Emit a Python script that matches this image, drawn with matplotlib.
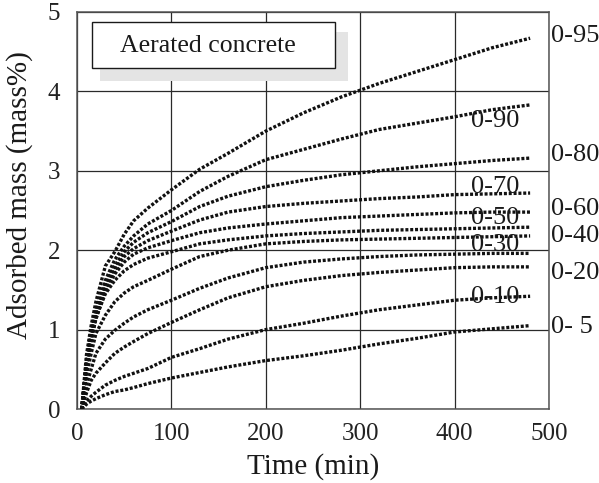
import matplotlib
matplotlib.use("Agg")
import matplotlib.pyplot as plt
from matplotlib.patches import Rectangle

plt.rcParams['font.family'] = ['Liberation Serif', 'DejaVu Serif']

# time points (min) at which the curves were read
t = [5, 10, 15, 20, 30, 40, 50, 60, 75, 100, 130, 160, 200, 240, 280, 320, 360, 400, 440, 480]

# adsorbed mass (mass%) for each relative humidity step
rh_0_95 = [0.0, 0.68, 1.05, 1.35, 1.80, 1.98, 2.20, 2.37, 2.53, 2.76, 3.02, 3.22, 3.50, 3.73, 3.93, 4.10, 4.25, 4.40, 4.55, 4.67]
rh_0_90 = [0.0, 0.60, 0.98, 1.25, 1.62, 1.88, 2.05, 2.18, 2.33, 2.50, 2.74, 2.93, 3.14, 3.27, 3.40, 3.52, 3.60, 3.68, 3.77, 3.83]
rh_0_80 = [0.0, 0.58, 0.95, 1.20, 1.57, 1.80, 1.98, 2.10, 2.22, 2.36, 2.55, 2.68, 2.80, 2.88, 2.95, 3.00, 3.05, 3.09, 3.13, 3.16]
rh_0_70 = [0.0, 0.56, 0.92, 1.17, 1.52, 1.75, 1.92, 2.02, 2.12, 2.24, 2.38, 2.48, 2.55, 2.59, 2.62, 2.65, 2.67, 2.70, 2.71, 2.72]
rh_0_60 = [0.0, 0.54, 0.88, 1.13, 1.48, 1.70, 1.85, 1.95, 2.03, 2.12, 2.22, 2.28, 2.33, 2.37, 2.41, 2.43, 2.45, 2.47, 2.48, 2.48]
rh_0_50 = [0.0, 0.50, 0.85, 1.15, 1.45, 1.62, 1.74, 1.82, 1.90, 1.98, 2.08, 2.13, 2.18, 2.21, 2.23, 2.25, 2.26, 2.27, 2.28, 2.29]
rh_0_40 = [0.0, 0.42, 0.70, 0.95, 1.18, 1.35, 1.46, 1.54, 1.62, 1.76, 1.92, 2.00, 2.08, 2.11, 2.13, 2.14, 2.15, 2.16, 2.17, 2.18]
rh_0_30 = [0.0, 0.30, 0.50, 0.70, 0.88, 0.99, 1.08, 1.16, 1.25, 1.37, 1.52, 1.65, 1.78, 1.85, 1.89, 1.92, 1.94, 1.95, 1.96, 1.96]
rh_0_20 = [0.0, 0.20, 0.36, 0.45, 0.58, 0.70, 0.78, 0.85, 0.95, 1.09, 1.25, 1.40, 1.54, 1.62, 1.68, 1.72, 1.75, 1.78, 1.79, 1.79]
rh_0_10 = [0.0, 0.10, 0.16, 0.21, 0.30, 0.36, 0.41, 0.45, 0.51, 0.65, 0.76, 0.88, 1.00, 1.08, 1.17, 1.25, 1.31, 1.37, 1.40, 1.42]
rh_0_5 = [0.0, 0.06, 0.10, 0.13, 0.18, 0.22, 0.24, 0.27, 0.32, 0.39, 0.46, 0.53, 0.61, 0.67, 0.74, 0.82, 0.89, 0.97, 1.01, 1.05]

series = [rh_0_95, rh_0_90, rh_0_80, rh_0_70, rh_0_60, rh_0_50,
          rh_0_40, rh_0_30, rh_0_20, rh_0_10, rh_0_5]

# curve labels: text, y (data units)
labels_out = [("0-95", 4.70), ("0-80", 3.20), ("0-60", 2.52),
              ("0-40", 2.18), ("0-20", 1.71), ("0- 5", 1.03)]
labels_in = [("0-90", 3.63), ("0-70", 2.80), ("0-50", 2.41),
             ("0-30", 2.07), ("0-10", 1.41)]

W, H = 599, 483
fig = plt.figure(figsize=(W / 100, H / 100), dpi=100)
ax = fig.add_axes([77 / W, 1 - 409 / H, (549 - 77) / W, (409 - 12) / H])

for s in series:
    ax.plot(t, s, color='#111111', lw=2.4, linestyle=(0, (0.9, 0.55)),
            zorder=3)

ax.set_xlim(0, 500)
ax.set_ylim(0, 5)
ax.set_xticks([0, 100, 200, 300, 400, 500])
ax.set_yticks([0, 1, 2, 3, 4, 5])
ax.grid(True, color='#2a2a2a', lw=0.9)
ax.tick_params(length=0, labelsize=18, colors='#222')
ax.tick_params(axis='x', pad=10)
ax.tick_params(axis='y', pad=12)
for sp in ax.spines.values():
    sp.set_color('#555')
    sp.set_linewidth(1.1)

for txt, y in labels_out:
    ax.text(502, y, txt, fontsize=19, ha='left', va='center',
            color='#1a1a1a', clip_on=False)
for txt, y in labels_in:
    ax.text(443, y, txt, fontsize=19, ha='center', va='center',
            color='#1a1a1a', zorder=4)

fig.text(313 / W, 1 - 467 / H, "Time (min)", fontsize=21, ha='center',
         va='center', color='#1a1a1a')
fig.text(20 / W, 1 - 195 / H, "Adsorbed mass (mass%)", fontsize=21,
         rotation=90, ha='center', va='center', color='#1a1a1a')

# boxed title with shadow
shadow = Rectangle((100 / W, 1 - 81 / H), 248 / W, 49 / H,
                   transform=fig.transFigure, facecolor='#e4e4e4',
                   edgecolor='none', zorder=5)
box = Rectangle((92 / W, 1 - 68 / H), 243 / W, 46 / H,
                transform=fig.transFigure, facecolor='white',
                edgecolor='#1a1a1a', lw=1.0, zorder=6)
fig.add_artist(shadow)
fig.add_artist(box)
fig.text(208 / W, 1 - 46 / H, "Aerated concrete", fontsize=18.5,
         ha='center', va='center', color='#1a1a1a', zorder=7)

fig.savefig("out.png", dpi=100)
